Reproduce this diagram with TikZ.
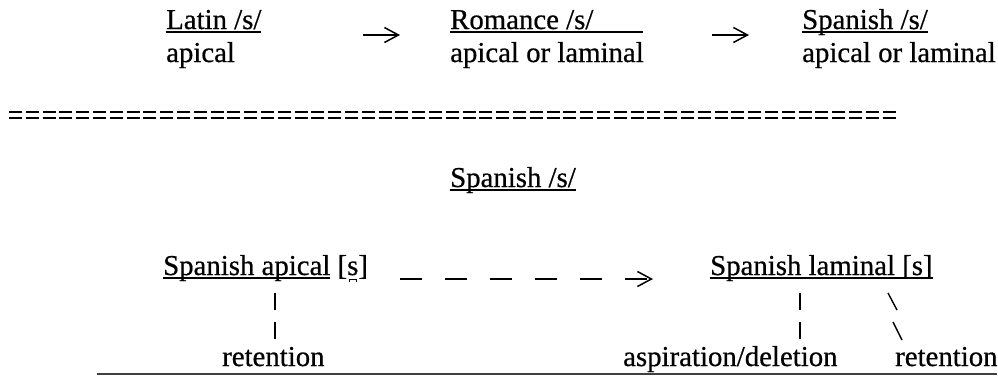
\documentclass[tikz,border=0pt]{standalone}
\usepackage{fontspec}
\setmainfont[FakeBold=0.6]{Liberation Serif}
\usetikzlibrary{arrows.meta}
\newcommand\myul[1]{\setbox0\hbox{#1}\rlap{\rule[-3.5pt]{\wd0}{1.4pt}}\box0\relax}
\newcommand\apbridge{\llap{\rule[-7pt]{1pt}{3pt}\rule[-5pt]{6pt}{1pt}\rule[-7pt]{1pt}{3pt}\hspace{1.8pt}}}
\begin{document}
\begin{tikzpicture}[x=1pt,y=-1pt,
  txt/.style={anchor=base west,inner sep=0pt,font=\fontsize{28.8}{33}\selectfont},
  tip/.tip={Straight Barb[length=14pt,width=15pt,line width=1.5pt]},
  arr/.style={line width=1.5pt,-tip},
  tick/.style={line width=1.4pt},
  eqline/.style={line width=2.6pt,dash pattern=on 13pt off 3.8pt}]
\useasboundingbox (0,0) rectangle (998,376);
% top row
\node[txt] (latin) at (166,29) {\myul{Latin /s/}};
\node[txt] (latin2) at (166,62) {apical};
\node[txt] (rom) at (450,29) {\myul{Romance /s/\hspace{50pt}}};
\node[txt] (rom2) at (450,62) {apical or laminal};
\node[txt] (spa) at (802,29) {\myul{Spanish /s/}};
\node[txt] (spa2) at (802,62) {apical or laminal};
\coordinate (a1s) at (363,35);
\coordinate (a1e) at (400,35);
\coordinate (a2s) at (712,35);
\coordinate (a2e) at (749,35);
\draw[arr] (a1s) -- (a1e);
\draw[arr] (a2s) -- (a2e);
% separator
\coordinate (e1s) at (9,112); \coordinate (e1e) at (896,112);
\coordinate (e2s) at (9,118); \coordinate (e2e) at (896,118);
\draw[eqline] (e1s) -- (e1e);
\draw[eqline] (e2s) -- (e2e);
% middle
\node[txt] (mid) at (450,187) {\myul{Spanish /s/}};
\node[txt] (api) at (163,275) {\myul{Spanish apical} [s\apbridge]};
\node[txt] (lam) at (710,275) {\myul{Spanish laminal [s]}};
\coordinate (ds) at (400,279);
\coordinate (de) at (653,279);
\draw[line width=1.6pt,dash pattern=on 22pt off 23pt,-tip] (ds) -- (de);
% bottom
\node[txt] (ret1) at (222,366) {retention};
\node[txt] (asp) at (623,366) {aspiration/deletion};
\node[txt] (ret2) at (895,366) {retention};
\coordinate (b1s) at (275,293); \coordinate (b1e) at (275,340);
\draw[tick,dash pattern=on 17pt off 12pt] (b1s) -- (b1e);
\coordinate (b2s) at (800,293); \coordinate (b2e) at (800,340);
\draw[tick,dash pattern=on 17pt off 12pt] (b2s) -- (b2e);
\coordinate (s1a) at (888,293); \coordinate (s1b) at (897,310);
\coordinate (s2a) at (893,322); \coordinate (s2b) at (902,340);
\draw[tick] (s1a) -- (s1b);
\draw[tick] (s2a) -- (s2b);
\coordinate (rl1) at (97,374); \coordinate (rl2) at (997,374);
\draw[line width=1.2pt,black!75] (rl1) -- (rl2);
\end{tikzpicture}
\end{document}
